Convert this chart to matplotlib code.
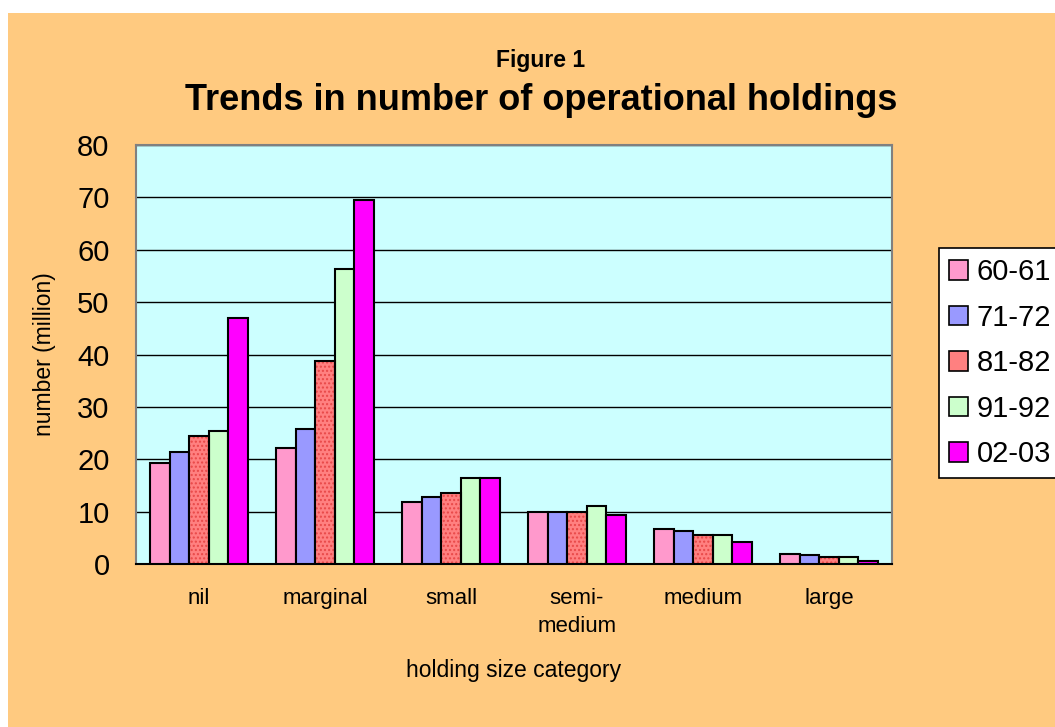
import matplotlib
matplotlib.use('Agg')
import matplotlib.pyplot as plt
from matplotlib.patches import Rectangle, Patch
import numpy as np

categories = ['nil', 'marginal', 'small', 'semi-\nmedium', 'medium', 'large']
years = ['60-61', '71-72', '81-82', '91-92', '02-03']
v6061 = [19.3, 22.1, 11.8, 9.9, 6.7, 2.0]
v7172 = [21.4, 25.8, 12.8, 9.9, 6.3, 1.8]
v8182 = [24.4, 38.7, 13.5, 9.9, 5.6, 1.4]
v9192 = [25.4, 56.3, 16.4, 11.0, 5.6, 1.4]
v0203 = [46.9, 69.5, 16.4, 9.3, 4.2, 0.6]
series = [v6061, v7172, v8182, v9192, v0203]
colors = ['#FF99CC', '#9999FF', '#FF8080', '#CCFFCC', '#FF00FF']
yticks = [0, 10, 20, 30, 40, 50, 60, 70, 80]

plt.rcParams['font.family'] = ['Liberation Sans', 'DejaVu Sans']

fig = plt.figure(figsize=(10.55, 7.27), dpi=100)
fig.patch.set_facecolor('white')
# orange chart area (slight white margin top/left)
fig.patches.append(Rectangle((8 / 1055, 0), 1, 1 - 13 / 727, transform=fig.transFigure,
                             facecolor='#FFCA80', edgecolor='none', zorder=-5))

ax = fig.add_axes([136 / 1055, 1 - 564 / 727, (892 - 136) / 1055, (564 - 145) / 727])
ax.set_zorder(2)
ax.set_facecolor('#CCFFFF')

x = np.arange(len(categories))
w = 0.156
handles = []
for k, (vals, c, lab) in enumerate(zip(series, colors, years)):
    pos = x + (k - 2) * w
    if lab == '81-82':
        # dotted fill like the original
        ax.bar(pos, vals, w, color=c, edgecolor='#E84848', hatch='....', linewidth=0, zorder=3)
        ax.bar(pos, vals, w, fill=False, edgecolor='black', linewidth=1.5, zorder=4)
    else:
        ax.bar(pos, vals, w, color=c, edgecolor='black', linewidth=1.5, zorder=3)
    handles.append(Patch(facecolor=c, edgecolor='black', linewidth=1.2, label=lab))

ax.set_xlim(-0.5, len(categories) - 0.5)
ax.set_ylim(0, 80)
ax.set_yticks(yticks)
ax.yaxis.grid(True, color='black', linewidth=1)
ax.set_axisbelow(True)
ax.tick_params(axis='y', length=0, pad=19, labelsize=21)
ax.set_xticks(x)
ax.set_xticklabels(categories, fontsize=16, linespacing=1.45, va='top')
ax.tick_params(axis='x', length=0, pad=17)
for s in ['left', 'top', 'right']:
    ax.spines[s].set_color('#808080')
    ax.spines[s].set_linewidth(1.5)
ax.spines['bottom'].set_color('black')
ax.spines['bottom'].set_linewidth(1.5)

fig.text(541 / 1055, 1 - 60 / 727, 'Figure 1', ha='center', va='center',
         fontsize=16.5, fontweight='bold')
fig.text(541 / 1055, 1 - 101 / 727, 'Trends in number of operational holdings',
         ha='center', va='center', fontsize=26, fontweight='bold')
fig.text(514 / 1055, 1 - 670 / 727, 'holding size category', ha='center', va='center',
         fontsize=16.5)
fig.text(45 / 1055, 1 - 354 / 727, 'number (million)', ha='center', va='center',
         rotation=90, fontsize=16.5)

leg = fig.legend(handles=handles, loc='upper left', bbox_to_anchor=(939 / 1055, 1 - 248 / 727),
                 fontsize=21, frameon=True, fancybox=False, framealpha=1, borderpad=0.35,
                 labelspacing=0.6, handlelength=0.66, handleheight=0.66,
                 handletextpad=0.28, borderaxespad=0)
leg.get_frame().set_edgecolor('black')
leg.get_frame().set_linewidth(1.2)
leg.get_frame().set_facecolor('white')

fig.savefig('out.png', dpi=100)
